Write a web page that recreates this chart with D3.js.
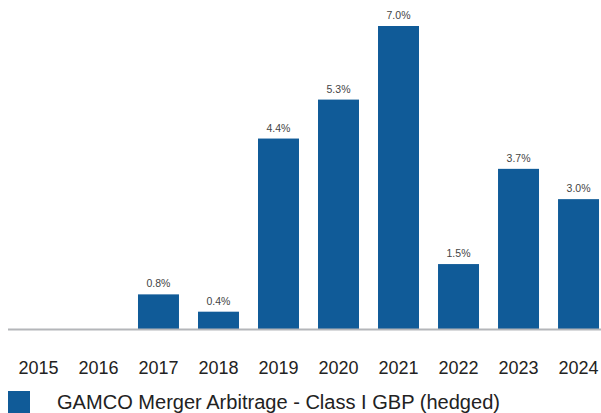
<!DOCTYPE html>
<html><head><meta charset="utf-8">
<script src="https://cdn.jsdelivr.net/npm/d3@7"></script>
<style>body{margin:0;background:#fff}svg{display:block}</style>
</head><body>
<svg id="c" width="601" height="413"></svg>
<script>
const years = ["2015","2016","2017","2018","2019","2020","2021","2022","2023","2024"];
const values = [null,null,0.8,0.4,4.4,5.3,7.0,1.5,3.7,3.0];
const seriesName = "GAMCO Merger Arbitrage - Class I GBP (hedged)";

const svg = d3.select("#c");
const color = "#105b98";
const x = d3.scaleBand().domain(years).range([8.5, 608.5]).paddingInner(0.317).paddingOuter(0.158);
const y = d3.scaleLinear().domain([0, 7]).range([329, 26]);
const data = years.map((yr, i) => ({yr, v: values[i]})).filter(d => d.v != null);

svg.selectAll("rect.bar").data(data).join("rect").attr("class","bar")
  .attr("x", d => x(d.yr)).attr("width", x.bandwidth())
  .attr("y", d => y(d.v)).attr("height", d => y(0) - y(d.v)).attr("fill", color);

svg.append("line").attr("x1", 8).attr("x2", 601).attr("y1", y(0)+0.5).attr("y2", y(0)+0.5)
  .attr("stroke", "#b4b6b9").attr("stroke-width", 2);

svg.selectAll("text.lbl").data(data).join("text").attr("class","lbl")
  .attr("x", d => x(d.yr) + x.bandwidth()/2).attr("y", d => y(d.v) - 7)
  .attr("text-anchor","middle").attr("font-family","Liberation Sans, Arial, sans-serif")
  .attr("font-size", 10.5).attr("fill","#444").text(d => d.v.toFixed(1) + "%");

const xAxis = d3.axisBottom(x).tickSize(0).tickPadding(0);
const gx = svg.append("g").attr("transform", `translate(0,${374})`).call(xAxis);
gx.select(".domain").remove();
gx.selectAll("text").attr("dy", 0).attr("y", 0).attr("font-family","Liberation Sans, Arial, sans-serif")
  .attr("font-size", 18).attr("fill","#222");

svg.append("rect").attr("x", 8).attr("y", 391).attr("width", 22).attr("height", 22).attr("fill", color);
svg.append("text").attr("x", 57).attr("y", 409).attr("font-family","Liberation Sans, Arial, sans-serif")
  .attr("font-size", 19.5).attr("fill","#222").attr("textLength", 443).attr("lengthAdjust","spacingAndGlyphs").text(seriesName);
</script>
</body></html>
